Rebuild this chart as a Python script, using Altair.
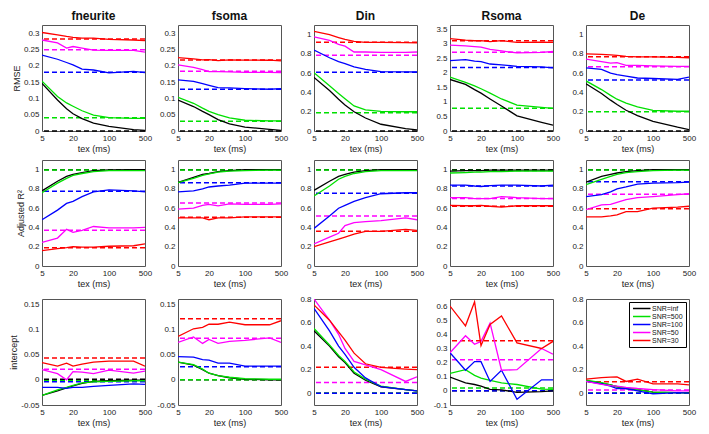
import altair as alt
import pandas as pd

TEX = [5, 10, 15, 20, 30, 50, 100, 300, 500]
SNR = ["SNR=inf", "SNR=500", "SNR=100", "SNR=50", "SNR=30"]
COLORS = ["#000000", "#00e000", "#0000ff", "#ff00ff", "#ff0000"]
PARAMS = ["fneurite", "fsoma", "Din", "Rsoma", "De"]
METRICS = ["RMSE", "Adjusted R²", "intercept"]
X_TICKS = [5, 20, 100, 500]

# ---------------- RMSE ----------------
RMSE_FNEURITE = [
    [0.146, 0.095, 0.068, 0.053, 0.038, 0.024, 0.014, 0.004, 0.002],
    [0.153, 0.106, 0.086, 0.076, 0.062, 0.049, 0.041, 0.039, 0.039],
    [0.233, 0.220, 0.210, 0.203, 0.190, 0.187, 0.178, 0.183, 0.179],
    [0.279, 0.270, 0.254, 0.259, 0.254, 0.248, 0.247, 0.247, 0.242],
    [0.302, 0.295, 0.290, 0.287, 0.285, 0.285, 0.281, 0.279, 0.277],
]
REF_RMSE_FNEURITE = [0.0, 0.041, 0.180, 0.249, 0.282]

RMSE_FSOMA = [
    [0.095, 0.075, 0.060, 0.050, 0.035, 0.022, 0.012, 0.005, 0.002],
    [0.103, 0.085, 0.070, 0.060, 0.050, 0.040, 0.033, 0.031, 0.031],
    [0.157, 0.152, 0.145, 0.140, 0.133, 0.132, 0.130, 0.128, 0.130],
    [0.203, 0.195, 0.188, 0.182, 0.182, 0.181, 0.180, 0.180, 0.179],
    [0.225, 0.221, 0.218, 0.219, 0.216, 0.218, 0.217, 0.217, 0.215],
]
REF_RMSE_FSOMA = [0.0, 0.030, 0.128, 0.183, 0.218]

RMSE_DIN = [
    [0.555, 0.420, 0.330, 0.270, 0.200, 0.135, 0.070, 0.025, 0.012],
    [0.605, 0.470, 0.390, 0.335, 0.260, 0.220, 0.203, 0.200, 0.200],
    [0.840, 0.760, 0.720, 0.700, 0.665, 0.640, 0.617, 0.614, 0.612],
    [0.977, 0.940, 0.900, 0.880, 0.820, 0.820, 0.815, 0.815, 0.820],
    [1.035, 1.000, 0.970, 0.950, 0.930, 0.920, 0.920, 0.918, 0.915],
]
REF_RMSE_DIN = [0.0, 0.19, 0.61, 0.785, 0.92]

RMSE_RSOMA = [
    [1.77, 1.60, 1.42, 1.30, 1.10, 0.86, 0.52, 0.30, 0.20],
    [1.85, 1.67, 1.55, 1.45, 1.30, 1.10, 0.89, 0.81, 0.78],
    [2.42, 2.45, 2.40, 2.38, 2.30, 2.27, 2.22, 2.20, 2.17],
    [2.95, 2.92, 2.90, 2.88, 2.80, 2.75, 2.68, 2.70, 2.73],
    [3.17, 3.12, 3.10, 3.10, 3.07, 3.10, 3.04, 3.05, 3.04],
]
REF_RMSE_RSOMA = [0.0, 0.78, 2.18, 2.70, 3.10]

RMSE_DE = [
    [0.49, 0.39, 0.32, 0.275, 0.215, 0.16, 0.10, 0.04, 0.015],
    [0.52, 0.43, 0.37, 0.33, 0.29, 0.25, 0.215, 0.205, 0.205],
    [0.655, 0.64, 0.60, 0.585, 0.57, 0.55, 0.545, 0.535, 0.56],
    [0.745, 0.72, 0.705, 0.71, 0.68, 0.68, 0.675, 0.67, 0.67],
    [0.80, 0.795, 0.79, 0.785, 0.775, 0.77, 0.77, 0.765, 0.76],
]
REF_RMSE_DE = [0.0, 0.20, 0.53, 0.668, 0.77]

# ---------------- Adjusted R^2 ----------------
R2_FNEURITE = [
    [0.78, 0.88, 0.93, 0.95, 0.97, 0.99, 0.998, 1.0, 1.0],
    [0.76, 0.86, 0.91, 0.94, 0.96, 0.98, 0.99, 0.99, 0.99],
    [0.48, 0.58, 0.65, 0.67, 0.72, 0.77, 0.79, 0.78, 0.77],
    [0.245, 0.29, 0.38, 0.35, 0.37, 0.41, 0.395, 0.395, 0.40],
    [0.16, 0.18, 0.19, 0.20, 0.195, 0.195, 0.205, 0.21, 0.23],
]
REF_R2_FNEURITE = [1.0, 0.995, 0.775, 0.37, 0.19]

R2_FSOMA = [
    [0.866, 0.92, 0.95, 0.96, 0.98, 0.99, 1.0, 1.0, 1.0],
    [0.866, 0.91, 0.94, 0.955, 0.975, 0.985, 0.99, 0.995, 0.995],
    [0.77, 0.78, 0.80, 0.82, 0.83, 0.84, 0.86, 0.86, 0.86],
    [0.59, 0.60, 0.63, 0.64, 0.625, 0.645, 0.64, 0.64, 0.645],
    [0.50, 0.50, 0.50, 0.48, 0.50, 0.50, 0.51, 0.51, 0.51],
]
REF_R2_FSOMA = [1.0, 0.995, 0.865, 0.655, 0.505]

R2_DIN = [
    [0.785, 0.88, 0.93, 0.95, 0.975, 0.99, 1.0, 1.0, 1.0],
    [0.726, 0.83, 0.90, 0.93, 0.96, 0.98, 0.99, 0.99, 0.99],
    [0.39, 0.52, 0.60, 0.63, 0.67, 0.71, 0.75, 0.76, 0.76],
    [0.23, 0.30, 0.34, 0.42, 0.45, 0.46, 0.47, 0.50, 0.48],
    [0.20, 0.25, 0.28, 0.30, 0.33, 0.36, 0.36, 0.38, 0.37],
]
REF_R2_DIN = [1.0, 0.995, 0.755, 0.52, 0.36]

R2_RSOMA = [
    [0.985, 0.99, 0.99, 0.99, 0.995, 0.995, 0.995, 0.995, 0.995],
    [0.965, 0.97, 0.975, 0.975, 0.98, 0.98, 0.985, 0.985, 0.985],
    [0.84, 0.84, 0.83, 0.825, 0.835, 0.84, 0.84, 0.83, 0.84],
    [0.71, 0.71, 0.70, 0.70, 0.70, 0.72, 0.71, 0.70, 0.70],
    [0.63, 0.625, 0.625, 0.63, 0.62, 0.61, 0.625, 0.625, 0.625],
]
REF_R2_RSOMA = [1.0, 0.99, 0.83, 0.70, 0.62]

R2_DE = [
    [0.87, 0.93, 0.95, 0.965, 0.98, 0.99, 1.0, 1.0, 1.0],
    [0.845, 0.90, 0.93, 0.95, 0.97, 0.98, 0.99, 0.995, 0.995],
    [0.72, 0.74, 0.77, 0.80, 0.82, 0.85, 0.86, 0.865, 0.87],
    [0.585, 0.635, 0.64, 0.66, 0.69, 0.71, 0.72, 0.74, 0.75],
    [0.51, 0.51, 0.52, 0.53, 0.565, 0.565, 0.60, 0.61, 0.62],
]
REF_R2_DE = [1.0, 0.995, 0.875, 0.745, 0.595]

# ---------------- intercept ----------------
INT_FNEURITE = [
    [-0.031, -0.022, -0.016, -0.012, -0.007, -0.003, -0.002, -0.001, -0.001],
    [-0.031, -0.020, -0.015, -0.011, -0.006, -0.004, -0.003, -0.002, -0.002],
    [-0.015, -0.015, -0.017, -0.015, -0.015, -0.013, -0.011, -0.008, -0.009],
    [0.020, 0.012, 0.000, 0.016, 0.015, 0.012, 0.019, 0.013, 0.017],
    [0.034, 0.027, 0.033, 0.027, 0.031, 0.035, 0.037, 0.037, 0.027],
]
REF_INT_FNEURITE = [0.001, -0.002, -0.004, 0.021, 0.043]

INT_FSOMA = [
    [0.035, 0.029, 0.020, 0.013, 0.008, 0.004, 0.001, 0.0, 0.0],
    [0.035, 0.030, 0.021, 0.013, 0.008, 0.005, 0.002, 0.001, 0.001],
    [0.046, 0.045, 0.040, 0.039, 0.033, 0.033, 0.027, 0.027, 0.027],
    [0.074, 0.085, 0.072, 0.080, 0.072, 0.076, 0.078, 0.083, 0.074],
    [0.086, 0.101, 0.104, 0.110, 0.110, 0.114, 0.109, 0.109, 0.117],
]
REF_INT_FSOMA = [0.0, 0.0, 0.026, 0.082, 0.121]

INT_DIN = [
    [0.53, 0.40, 0.31, 0.26, 0.17, 0.11, 0.055, 0.03, 0.02],
    [0.55, 0.41, 0.32, 0.27, 0.18, 0.12, 0.06, 0.03, 0.02],
    [0.72, 0.53, 0.40, 0.33, 0.22, 0.13, 0.055, 0.03, 0.02],
    [0.80, 0.62, 0.50, 0.38, 0.27, 0.24, 0.20, 0.10, 0.14],
    [0.75, 0.62, 0.52, 0.45, 0.34, 0.25, 0.22, 0.205, 0.20],
]
REF_INT_DIN = [0.0, 0.0, 0.0, 0.09, 0.22]

INT_RSOMA = [
    [0.097, 0.056, 0.045, 0.034, 0.011, 0.007, -0.011, -0.005, 0.0],
    [0.124, 0.15, 0.11, 0.09, 0.075, 0.056, 0.045, 0.012, 0.01],
    [0.27, 0.146, 0.207, 0.207, 0.067, 0.146, -0.06, 0.078, 0.078],
    [0.27, 0.39, 0.33, 0.35, 0.48, 0.146, 0.15, 0.30, 0.26],
    [0.60, 0.46, 0.63, 0.32, 0.47, 0.53, 0.34, 0.30, 0.35],
]
REF_INT_RSOMA = [0.0, 0.02, 0.0, 0.22, 0.355]

INT_DE = [
    [0.105, 0.085, 0.07, 0.055, 0.04, 0.03, 0.01, 0.005, 0.005],
    [0.11, 0.09, 0.07, 0.055, 0.045, 0.03, 0.01, 0.005, 0.0],
    [0.10, 0.08, 0.06, 0.04, 0.04, 0.02, -0.005, 0.005, 0.0],
    [0.10, 0.075, 0.065, 0.06, 0.05, 0.04, 0.03, 0.02, 0.02],
    [0.12, 0.133, 0.136, 0.139, 0.10, 0.12, 0.08, 0.08, 0.07],
]
REF_INT_DE = [0.0, 0.0, 0.0, 0.028, 0.097]

# ---------------- axis ranges ----------------
T_RMSE_F = [0, 0.05, 0.1, 0.15, 0.2, 0.25, 0.3]
T_UNIT = [0, 0.2, 0.4, 0.6, 0.8, 1]
T_RSOMA = [0, 0.5, 1, 1.5, 2, 2.5, 3, 3.5]
T_INT_F = [-0.05, 0, 0.05, 0.1, 0.15]
T_INT_D = [0, 0.2, 0.4, 0.6, 0.8]
T_INT_R = [-0.1, 0, 0.1, 0.2, 0.3, 0.4, 0.5, 0.6]

GRID = [
    [
        (RMSE_FNEURITE, REF_RMSE_FNEURITE, [0, 0.325], T_RMSE_F),
        (RMSE_FSOMA, REF_RMSE_FSOMA, [0, 0.325], T_RMSE_F),
        (RMSE_DIN, REF_RMSE_DIN, [0, 1.1], T_UNIT),
        (RMSE_RSOMA, REF_RMSE_RSOMA, [0, 3.64], T_RSOMA),
        (RMSE_DE, REF_RMSE_DE, [0, 1.1], T_UNIT),
    ],
    [
        (R2_FNEURITE, REF_R2_FNEURITE, [0, 1.1], T_UNIT),
        (R2_FSOMA, REF_R2_FSOMA, [0, 1.1], T_UNIT),
        (R2_DIN, REF_R2_DIN, [0, 1.1], T_UNIT),
        (R2_RSOMA, REF_R2_RSOMA, [0, 1.1], T_UNIT),
        (R2_DE, REF_R2_DE, [0, 1.1], T_UNIT),
    ],
    [
        (INT_FNEURITE, REF_INT_FNEURITE, [-0.05, 0.16], T_INT_F),
        (INT_FSOMA, REF_INT_FSOMA, [-0.05, 0.16], T_INT_F),
        (INT_DIN, REF_INT_DIN, [-0.1, 0.8], T_INT_D),
        (INT_RSOMA, REF_INT_RSOMA, [-0.1, 0.65], T_INT_R),
        (INT_DE, REF_INT_DE, [-0.1, 0.8], T_INT_D),
    ],
]

W, H = 103, 106
FONT = "Liberation Sans"


def panel(r, c, series, refs, domain, ticks):
    rows = []
    for name, col, vals in zip(SNR, COLORS, series):
        for t, v in zip(TEX, vals):
            rows.append({"tex": t, "val": v, "snr": name, "c": col})
    df = pd.DataFrame(rows)
    rdf = pd.DataFrame({"snr": SNR, "c": COLORS, "ref": refs})

    yscale = alt.Scale(domain=domain, nice=False, zero=False)
    if c == 0:
        yaxis = alt.Axis(values=ticks, labelExpr="datum.value + ''", title=METRICS[r])
    else:
        yaxis = alt.Axis(values=ticks, labelExpr="datum.value + ''", title=None)
    xenc = alt.X(
        "tex:Q",
        scale=alt.Scale(type="log", domain=[5, 500], nice=False),
        axis=alt.Axis(values=X_TICKS, format="d", title="tex (ms)"),
    )

    rules = alt.Chart(rdf).mark_rule(strokeDash=[5, 3], strokeWidth=1.5).encode(
        y=alt.Y("ref:Q", scale=yscale, axis=yaxis),
        color=alt.Color("c:N", scale=None),
    )
    if r == 2 and c == 4:
        color = alt.Color(
            "snr:N",
            scale=alt.Scale(domain=SNR, range=COLORS),
            sort=SNR,
            legend=alt.Legend(
                title=None,
                orient="top-right",
                offset=3,
                padding=3,
                strokeColor="#000",
                fillColor="#fff",
                labelFont=FONT,
                labelFontSize=7,
                labelColor="#111",
                symbolType="M-1,0L6,0",
                symbolSize=25,
                symbolStrokeWidth=1.5,
                labelOffset=13,
                rowPadding=0,
            ),
        )
    else:
        color = alt.Color("c:N", scale=None)
    lines = alt.Chart(df).mark_line(strokeWidth=1.3, clip=True).encode(
        x=xenc,
        y=alt.Y("val:Q", scale=yscale, axis=yaxis),
        color=color,
    )
    ch = alt.layer(rules, lines).properties(width=W, height=H)
    if r == 0:
        ch = ch.properties(
            title=alt.TitleParams(PARAMS[c], fontSize=12, fontWeight="bold", offset=2, font=FONT)
        )
    return ch


rows = []
for r in range(3):
    panels = [panel(r, c, *GRID[r][c]) for c in range(5)]
    rows.append(
        alt.hconcat(*panels, spacing=33, bounds="flush")
        .resolve_scale(color="independent")
        .resolve_legend(color="independent")
    )

chart = (
    alt.vconcat(*rows, spacing=5)
    .resolve_scale(color="independent")
    .resolve_legend(color="independent")
    .properties(padding=1)
    .configure_view(stroke="#555555", strokeWidth=1)
    .configure_axis(
        labelFont=FONT,
        titleFont=FONT,
        labelFontSize=8,
        titleFontSize=9,
        titleFontWeight="normal",
        ticks=False,
        domain=False,
        grid=False,
        labelPadding=3,
        titlePadding=2,
        labelColor="#222222",
        titleColor="#222222",
        labelFlush=False,
    )
    .configure_title(anchor="middle", color="#111111")
)

chart.save("out.html", embed_options={"renderer": "svg", "actions": False})
